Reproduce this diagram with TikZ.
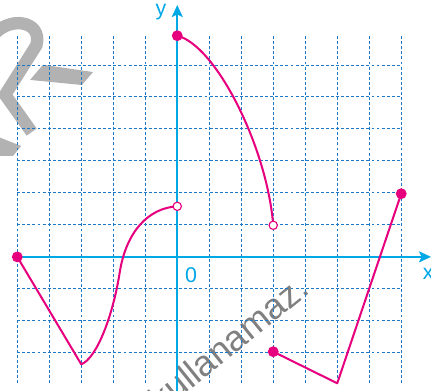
\documentclass[tikz,border=0pt]{standalone}
\usepackage{fontspec}
\setmainfont{Liberation Sans}
\usetikzlibrary{arrows.meta}
\definecolor{GridBlue}{RGB}{30,120,200}
\definecolor{AxisCyan}{RGB}{0,168,230}
\definecolor{GraphPink}{RGB}{230,0,126}
\tikzset{
    gridline/.style={GridBlue,line width=0.7pt,dash pattern=on 2.6pt off 1.9pt},
    axisline/.style={AxisCyan,line width=1.4pt,-{Stealth[length=3.8mm,width=3.5mm,inset=0.9mm]}},
    graphline/.style={GraphPink,line width=1.8pt},
    fulldot/.style={circle,fill=GraphPink,inner sep=0pt,minimum size=3.4mm},
    opendot/.style={circle,draw=GraphPink,fill=white,line width=1pt,inner sep=0pt,minimum size=2.6mm},
    axislabel/.style={AxisCyan,font=\fontsize{19}{21}\selectfont,inner sep=0pt},
    stampmark/.style={black!30}
}
\begin{document}
\begin{tikzpicture}[x=1cm,y=0.9875cm]
                \useasboundingbox (-5.54,-4.24) rectangle (7.93,8.13);

                \fill[stampmark] (-4.2,6.08)--(-2.63,5.85)--(-2.98,5.44)--(-4.6,5.6)--cycle;
                \fill[stampmark] (-5.6,3.8)--(-4.88,3.51)--(-5.13,3.2)--(-5.6,3.2)--cycle;
                \draw[stampmark,line width=11pt,line join=miter] (-5.8,6.95) .. controls (-5.3,7.65) and (-4.2,7.5) .. (-4.4,6.7)--(-5.38,5.13)--(-4.55,3.95);
                \node[rotate=39,text=black!50,font=\fontsize{32}{34}\selectfont] (Stamp) at (1.6,-2.72) {kullanamaz.};

                \draw[gridline] (-5,-4) grid (7,7);

                \coordinate (LeftEnd) at (-5,0);
                \coordinate (LowCorner) at (-3,-3.4);
                \coordinate (Bend) at (-1.8,-0.5);
                \coordinate (HoleLeft) at (0,1.6);
                \coordinate (TopEnd) at (0,7);
                \coordinate (HoleRight) at (3,1);
                \coordinate (StepStart) at (3,-3);
                \coordinate (Bottom) at (5,-4);
                \coordinate (RightEnd) at (7,2);
                \coordinate (XTip) at (7.93,0);
                \coordinate (YFoot) at (0,-4.24);
                \coordinate (YTip) at (0,7.97);

                \draw[axisline] (LeftEnd)--(XTip);
                \draw[axisline] (YFoot)--(YTip);
                \node[axislabel] (XLabel) at (7.84,-0.55) {x};
                \node[axislabel] (YLabel) at (-0.51,7.75) {y};
                \node[axislabel] (Origin) at (0.43,-0.57) {0};

                \draw[graphline,line join=round] (LeftEnd)--(LowCorner) .. controls (-2.5,-3.2) and (-2.0,-1.8) .. (Bend) .. controls (-1.6,0.8) and (-0.9,1.55) .. (HoleLeft);
                \draw[graphline] (TopEnd) .. controls (1.2,6.7) and (2.8,3.5) .. (HoleRight);
                \draw[graphline,line join=round] (StepStart)--(Bottom)--(RightEnd);

                \node[fulldot] (LeftDot) at (LeftEnd) {};
                \node[fulldot] (TopDot) at (TopEnd) {};
                \node[fulldot] (StepDot) at (StepStart) {};
                \node[fulldot] (RightDot) at (RightEnd) {};
                \node[opendot] (LeftHole) at (HoleLeft) {};
                \node[opendot] (RightHole) at (HoleRight) {};
            \end{tikzpicture}
\end{document}
